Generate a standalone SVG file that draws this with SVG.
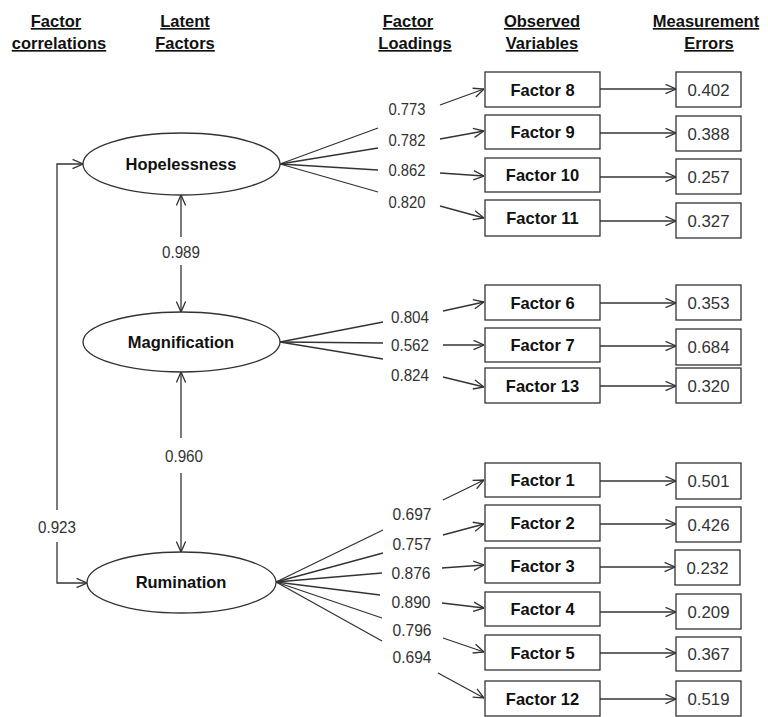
<svg xmlns="http://www.w3.org/2000/svg" width="768" height="717" viewBox="0 0 768 717">
<style>
.hdr{font-family:"Liberation Sans",Arial,sans-serif;font-weight:bold;font-size:16.5px;fill:#111;text-anchor:middle;text-decoration:underline}
.lat{font-family:"Liberation Sans",Arial,sans-serif;font-weight:bold;font-size:16.5px;fill:#111;text-anchor:middle}
.obs{font-family:"Liberation Sans",Arial,sans-serif;font-weight:bold;font-size:16.5px;fill:#111;text-anchor:middle}
.num{font-family:"Liberation Sans",Arial,sans-serif;font-size:17px;fill:#333;text-anchor:middle}
.shape{fill:#fff;stroke:#333;stroke-width:1.3}
.ln{fill:none;stroke:#333;stroke-width:1.3}
.arr{fill:none;stroke:#333;stroke-width:1.3;marker-end:url(#ah)}
</style>
<defs>
<marker id="ah" viewBox="0 0 10 10" refX="10" refY="5" markerWidth="11" markerHeight="11" markerUnits="userSpaceOnUse" orient="auto">
<path d="M0.5,0.8 L10,5 L0.5,9.2" fill="none" stroke="#333" stroke-width="1.2"/>
</marker>
</defs>
<rect width="768" height="717" fill="#fff"/>

<g id="headers">
<text class="hdr" x="56" y="27">Factor </text>
<text class="hdr" x="59" y="49">correlations</text>
<text class="hdr" x="185" y="27">Latent</text>
<text class="hdr" x="185" y="49">Factors</text>
<text class="hdr" x="408" y="27">Factor</text>
<text class="hdr" x="415" y="49">Loadings</text>
<text class="hdr" x="542" y="27">Observed</text>
<text class="hdr" x="542" y="49">Variables</text>
<text class="hdr" x="706" y="27">Measurement</text>
<text class="hdr" x="709" y="49">Errors</text>
</g>

<g id="connectors">
<!-- factor correlations -->
<polyline class="arr" points="57,510 57,164 83,164"/>
<polyline class="arr" points="57,542 57,583 87,583"/>
<line class="arr" x1="181" y1="237" x2="181" y2="195"/>
<line class="arr" x1="181" y1="265" x2="181" y2="312"/>
<line class="arr" x1="181" y1="438" x2="181" y2="372"/>
<line class="arr" x1="181" y1="473" x2="181" y2="552"/>
<!-- Hopelessness loadings -->
<line class="ln" x1="280" y1="164" x2="378" y2="128"/>
<line class="ln" x1="280" y1="164" x2="378" y2="148"/>
<line class="ln" x1="280" y1="164" x2="378" y2="170"/>
<line class="ln" x1="280" y1="164" x2="378" y2="192"/>
<line class="arr" x1="440" y1="105" x2="484" y2="89"/>
<line class="arr" x1="440" y1="139" x2="484" y2="131"/>
<line class="arr" x1="440" y1="173" x2="484" y2="176"/>
<line class="arr" x1="440" y1="206" x2="484" y2="218"/>
<!-- Magnification loadings -->
<line class="ln" x1="280" y1="342" x2="383" y2="322"/>
<line class="ln" x1="280" y1="342" x2="383" y2="343"/>
<line class="ln" x1="280" y1="342" x2="383" y2="359"/>
<line class="arr" x1="443" y1="311" x2="484" y2="302"/>
<line class="arr" x1="443" y1="345" x2="484" y2="345"/>
<line class="arr" x1="443" y1="377" x2="484" y2="387"/>
<!-- Rumination loadings -->
<line class="ln" x1="276" y1="582" x2="383" y2="530"/>
<line class="ln" x1="276" y1="582" x2="383" y2="553"/>
<line class="ln" x1="276" y1="582" x2="382" y2="573"/>
<line class="ln" x1="276" y1="582" x2="380" y2="595"/>
<line class="ln" x1="276" y1="582" x2="382" y2="618"/>
<line class="ln" x1="276" y1="582" x2="382" y2="641"/>
<line class="arr" x1="443" y1="500" x2="484" y2="480"/>
<line class="arr" x1="443" y1="535" x2="484" y2="524"/>
<line class="arr" x1="442" y1="568" x2="484" y2="565"/>
<line class="arr" x1="442" y1="603" x2="484" y2="608"/>
<line class="arr" x1="443" y1="638" x2="484" y2="652"/>
<line class="arr" x1="438" y1="673" x2="484" y2="698"/>
<!-- error arrows -->
<line class="arr" x1="600" y1="89" x2="676" y2="89"/>
<line class="arr" x1="600" y1="133" x2="676" y2="133"/>
<line class="arr" x1="600" y1="177" x2="676" y2="177"/>
<line class="arr" x1="600" y1="221" x2="676" y2="221"/>
<line class="arr" x1="600" y1="303" x2="676" y2="303"/>
<line class="arr" x1="600" y1="346" x2="676" y2="346"/>
<line class="arr" x1="600" y1="386" x2="676" y2="386"/>
<line class="arr" x1="600" y1="481" x2="676" y2="481"/>
<line class="arr" x1="600" y1="524" x2="676" y2="524"/>
<line class="arr" x1="599" y1="567" x2="675" y2="567"/>
<line class="arr" x1="600" y1="612" x2="676" y2="612"/>
<line class="arr" x1="600" y1="653" x2="676" y2="653"/>
<line class="arr" x1="600" y1="699" x2="676" y2="699"/>
</g>

<g id="correlation-labels">
<text class="num" x="57" y="533" textLength="38" lengthAdjust="spacingAndGlyphs">0.923</text>
<text class="num" x="181" y="258" textLength="38" lengthAdjust="spacingAndGlyphs">0.989</text>
<text class="num" x="184" y="462" textLength="38" lengthAdjust="spacingAndGlyphs">0.960</text>
</g>

<g id="loading-labels">
<text class="num" x="407" y="115" textLength="37" lengthAdjust="spacingAndGlyphs">0.773</text>
<text class="num" x="407" y="146" textLength="37" lengthAdjust="spacingAndGlyphs">0.782</text>
<text class="num" x="407" y="176" textLength="37" lengthAdjust="spacingAndGlyphs">0.862</text>
<text class="num" x="407" y="208" textLength="37" lengthAdjust="spacingAndGlyphs">0.820</text>
<text class="num" x="410" y="323" textLength="38" lengthAdjust="spacingAndGlyphs">0.804</text>
<text class="num" x="410" y="351" textLength="38" lengthAdjust="spacingAndGlyphs">0.562</text>
<text class="num" x="410" y="381" textLength="38" lengthAdjust="spacingAndGlyphs">0.824</text>
<text class="num" x="412" y="520" textLength="39" lengthAdjust="spacingAndGlyphs">0.697</text>
<text class="num" x="412" y="550" textLength="39" lengthAdjust="spacingAndGlyphs">0.757</text>
<text class="num" x="411" y="579" textLength="39" lengthAdjust="spacingAndGlyphs">0.876</text>
<text class="num" x="411" y="608" textLength="39" lengthAdjust="spacingAndGlyphs">0.890</text>
<text class="num" x="412" y="636" textLength="39" lengthAdjust="spacingAndGlyphs">0.796</text>
<text class="num" x="412" y="663" textLength="39" lengthAdjust="spacingAndGlyphs">0.694</text>
</g>

<g id="hopelessness"><ellipse class="shape" cx="181.5" cy="164" rx="98.5" ry="31"/><text class="lat" x="181" y="170">Hopelessness</text></g>
<g id="magnification"><ellipse class="shape" cx="181.5" cy="342" rx="98.5" ry="30"/><text class="lat" x="181" y="348">Magnification</text></g>
<g id="rumination"><ellipse class="shape" cx="181.5" cy="582.5" rx="94.5" ry="30.5"/><text class="lat" x="181" y="588">Rumination</text></g>

<g id="factor8"><rect class="shape" x="485" y="72" width="115" height="35"/><text class="obs" x="542.5" y="95.5">Factor 8</text></g>
<g id="factor9"><rect class="shape" x="485" y="115" width="115" height="34"/><text class="obs" x="542.5" y="138">Factor 9</text></g>
<g id="factor10"><rect class="shape" x="485" y="158" width="115" height="34"/><text class="obs" x="542.5" y="181">Factor 10</text></g>
<g id="factor11"><rect class="shape" x="485" y="200" width="115" height="36"/><text class="obs" x="542.5" y="224">Factor 11</text></g>
<g id="factor6"><rect class="shape" x="485" y="285" width="115" height="35"/><text class="obs" x="542.5" y="308.5">Factor 6</text></g>
<g id="factor7"><rect class="shape" x="485" y="328" width="115" height="34"/><text class="obs" x="542.5" y="351">Factor 7</text></g>
<g id="factor13"><rect class="shape" x="485" y="368" width="115" height="35"/><text class="obs" x="542.5" y="391.5">Factor 13</text></g>
<g id="factor1"><rect class="shape" x="485" y="463" width="115" height="34"/><text class="obs" x="542.5" y="486">Factor 1</text></g>
<g id="factor2"><rect class="shape" x="485" y="505" width="115" height="36"/><text class="obs" x="542.5" y="529">Factor 2</text></g>
<g id="factor3"><rect class="shape" x="485" y="548" width="115" height="35"/><text class="obs" x="542.5" y="571.5">Factor 3</text></g>
<g id="factor4"><rect class="shape" x="485" y="592" width="115" height="34"/><text class="obs" x="542.5" y="615">Factor 4</text></g>
<g id="factor5"><rect class="shape" x="485" y="635" width="115" height="35"/><text class="obs" x="542.5" y="658.5">Factor 5</text></g>
<g id="factor12"><rect class="shape" x="485" y="681" width="115" height="35"/><text class="obs" x="542.5" y="704.5">Factor 12</text></g>

<g id="err8"><rect class="shape" x="676" y="72" width="65" height="35"/><text class="num" x="708.5" y="95.5" textLength="42" lengthAdjust="spacingAndGlyphs">0.402</text></g>
<g id="err9"><rect class="shape" x="676" y="116" width="65" height="35"/><text class="num" x="708.5" y="139.5" textLength="42" lengthAdjust="spacingAndGlyphs">0.388</text></g>
<g id="err10"><rect class="shape" x="676" y="159" width="65" height="35"/><text class="num" x="708.5" y="182.5" textLength="42" lengthAdjust="spacingAndGlyphs">0.257</text></g>
<g id="err11"><rect class="shape" x="676" y="203" width="65" height="35"/><text class="num" x="708.5" y="226.5" textLength="42" lengthAdjust="spacingAndGlyphs">0.327</text></g>
<g id="err6"><rect class="shape" x="676" y="285" width="65" height="35"/><text class="num" x="708.5" y="308.5" textLength="42" lengthAdjust="spacingAndGlyphs">0.353</text></g>
<g id="err7"><rect class="shape" x="676" y="329" width="65" height="36"/><text class="num" x="708.5" y="353" textLength="42" lengthAdjust="spacingAndGlyphs">0.684</text></g>
<g id="err13"><rect class="shape" x="676" y="368" width="65" height="35"/><text class="num" x="708.5" y="391.5" textLength="42" lengthAdjust="spacingAndGlyphs">0.320</text></g>
<g id="err1"><rect class="shape" x="676" y="463" width="65" height="36"/><text class="num" x="708.5" y="487" textLength="42" lengthAdjust="spacingAndGlyphs">0.501</text></g>
<g id="err2"><rect class="shape" x="676" y="507" width="65" height="35"/><text class="num" x="708.5" y="530.5" textLength="42" lengthAdjust="spacingAndGlyphs">0.426</text></g>
<g id="err3"><rect class="shape" x="675" y="550" width="65" height="35"/><text class="num" x="707.5" y="573.5" textLength="42" lengthAdjust="spacingAndGlyphs">0.232</text></g>
<g id="err4"><rect class="shape" x="676" y="594" width="65" height="35"/><text class="num" x="708.5" y="617.5" textLength="42" lengthAdjust="spacingAndGlyphs">0.209</text></g>
<g id="err5"><rect class="shape" x="676" y="637" width="65" height="34"/><text class="num" x="708.5" y="660" textLength="42" lengthAdjust="spacingAndGlyphs">0.367</text></g>
<g id="err12"><rect class="shape" x="676" y="681" width="65" height="35"/><text class="num" x="708.5" y="704.5" textLength="42" lengthAdjust="spacingAndGlyphs">0.519</text></g>
</svg>
